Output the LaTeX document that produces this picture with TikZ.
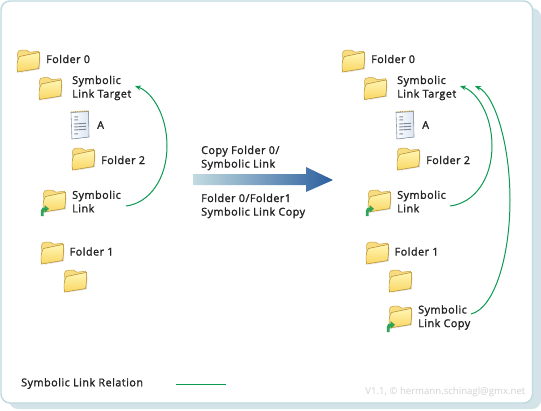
\documentclass[tikz,border=0pt]{standalone}
\usepackage{fontspec}
\setmainfont{Open Sans}
\newfontfamily\lblfont[FakeBold=1.5,LetterSpace=4.5]{Open Sans}
\usetikzlibrary{arrows.meta}
\definecolor{frameblue}{HTML}{BFD9E1}
\definecolor{shadowblue}{HTML}{D3E3E8}
\definecolor{linkgreen}{HTML}{0A9A50}
\definecolor{markgreen}{HTML}{2FA35A}
\definecolor{textdark}{HTML}{222222}
\definecolor{foldedge}{HTML}{C9A244}
\definecolor{foldtop}{HTML}{FFF6B4}
\definecolor{foldlow}{HTML}{F9D662}
\definecolor{foldback}{HTML}{F8DC80}
\definecolor{arrowlight}{HTML}{C2DBE0}
\definecolor{arrowdark}{HTML}{2B5F9E}
\definecolor{padedge}{HTML}{8C9BB5}
\definecolor{padfill}{HTML}{DCE4F0}
\definecolor{padline}{HTML}{7F8A99}
\definecolor{padring}{HTML}{B89B50}
\tikzset{
  x=1pt,y=-1pt,
  lbl/.style={font=\lblfont\fontsize{10.8}{13.6}\selectfont,text=textdark,align=left,anchor=west,inner sep=0pt},
  relation/.style={draw=linkgreen,line width=1pt},
  reltip/.style={relation,-{Stealth[length=6pt,width=5pt]}},
  pics/folder/.style={code={
    \path[fill=black!30,opacity=.45] (-9.5,12)--(12,8.2)--(12.4,-6)--(11,7)--cycle;
    \filldraw[draw=foldedge,line width=.5pt,fill=foldback]
      (-10.5,-6) .. controls (-10.5,-10) and (-9,-11) .. (-6,-11)
      -- (-2,-11) .. controls (0,-11) and (0,-9) .. (2,-8.8)
      -- (10.5,-9.8) -- (11.5,-6) -- (-9,8) -- cycle;
    \filldraw[draw=foldedge,line width=.6pt,top color=foldtop,bottom color=foldlow]
      (-8.5,-4.5) .. controls (-3,-5.5) and (5,-7.5) .. (11.5,-8.5)
      .. controls (11.7,-4) and (11.5,3) .. (10.5,7.5)
      -- (-10.5,11) .. controls (-11.5,5) and (-11,-1) .. (-8.5,-4.5) -- cycle;
  }},
  pics/linkmark/.style={code={
    \fill[markgreen] (-13,15) -- (-13.2,9.5) .. controls (-13,7.5) and (-11,6.5) .. (-9.5,6.5)
      -- (-9.5,4) -- (-5,7.8) -- (-9.5,12) -- (-9.5,9.5) .. controls (-10.5,9.5) and (-10.5,11) .. (-10.5,15) -- cycle;
  }},
  pics/notepad/.style={code={
    \filldraw[draw=padedge,line width=.6pt,left color=white,right color=padfill]
      (-9,-12.5) -- (8.5,-13.5) -- (9,12) -- (-8,14) -- cycle;
    \draw[draw=padring,line width=1.2pt,dash pattern=on 1pt off .8pt] (-8.5,-13) -- (8.5,-14);
    \draw[padline,line width=.9pt]
      (-6,-8) -- (-2,-8.2) (-6,-5) -- (-2,-5.2)
      (-6,-1) -- (6,-1.7) (-6,2) -- (6,1.3) (-6,5) -- (6,4.3)
      (-6,9) -- (-2,8.8);
  }}
}
\begin{document}
\begin{tikzpicture}
\useasboundingbox (0,0) rectangle (541,410);
\fill[white] (0,0) rectangle (541,410);
% frame
\fill[shadowblue] (9,8) [rounded corners=9pt] -- (541,8) -- (541,409) -- (9,409) -- cycle;
\filldraw[draw=frameblue,fill=white,line width=1.4pt,rounded corners=9pt] (1,1) rectangle (532.5,403);

% ---- left tree
\pic at (28,61) {folder};
\pic at (50,88.5) {folder};
\pic at (80,125) {notepad};
\pic at (83,159) {folder};
\pic at (54,201) {folder};
\pic at (54,201) {linkmark};
\pic at (52,253) {folder};
\pic at (75,281) {folder};
\node[lbl] (lf0) at (46,59) {Folder 0};
\node[lbl] (lt)  at (72,88) {Symbolic\\Link Target};
\node[lbl] (la)  at (97,125) {A};
\node[lbl] (lf2) at (101,160) {Folder 2};
\node[lbl] (ll)  at (72,201.5) {Symbolic\\Link};
\node[lbl] (lf1) at (69.5,251.5) {Folder 1};

% ---- right tree
\pic at (353,61) {folder};
\pic at (375,88.5) {folder};
\pic at (405,125) {notepad};
\pic at (408,159) {folder};
\pic at (379,201) {folder};
\pic at (379,201) {linkmark};
\pic at (377,253) {folder};
\pic at (400,281) {folder};
\pic at (400,317) {folder};
\pic at (400,317) {linkmark};
\node[lbl] (rf0) at (371,59) {Folder 0};
\node[lbl] (rt)  at (397,88) {Symbolic\\Link Target};
\node[lbl] (ra)  at (422,125) {A};
\node[lbl] (rf2) at (426,160) {Folder 2};
\node[lbl] (rl)  at (397,201.5) {Symbolic\\Link};
\node[lbl] (rf1) at (394.5,251.5) {Folder 1};
\node[lbl] (rc)  at (418,317.5) {Symbolic\\Link Copy};

% ---- central arrow
\path[left color=arrowlight,right color=arrowdark]
  (193,174) -- (306,174) -- (306,167) -- (333,180) -- (306,192) -- (306,185) -- (193,185) -- cycle;
\node[lbl] (copya) at (201,158) {Copy Folder 0/\\Symbolic Link};
\node[lbl] (copyb) at (201,206) {Folder 0/Folder1\\Symbolic Link Copy};

% ---- relations
\coordinate (ls) at (126,206);
\coordinate (lm) at (167,146);
\coordinate (le) at (135,86);
\draw[reltip] (ls) .. controls (150,203) and (167,178) .. (lm) .. controls (167,115) and (152,92) .. (le);
\coordinate (rs) at (450,206);
\coordinate (rm) at (492,146);
\coordinate (re) at (460,86);
\draw[reltip] (rs) .. controls (475,203) and (492,178) .. (rm) .. controls (492,115) and (477,92) .. (re);
\coordinate (cs) at (471,314);
\coordinate (cm) at (510,200);
\coordinate (ce) at (475,86);
\draw[reltip] (cs) .. controls (495,308) and (510,255) .. (cm) .. controls (510,145) and (495,95) .. (ce);

% ---- legend
\node[lbl] (leg) at (21,383.5) {Symbolic Link Relation};
\coordinate (lga) at (176,384);
\coordinate (lgb) at (226,384);
\draw[relation] (lga) -- (lgb);
\node[anchor=east,inner sep=0pt,text=black!18,font=\fontsize{9.6}{12}\selectfont] (ver) at (525.5,392) {V1.1, © hermann.schinagl@gmx.net};
\end{tikzpicture}
\end{document}
